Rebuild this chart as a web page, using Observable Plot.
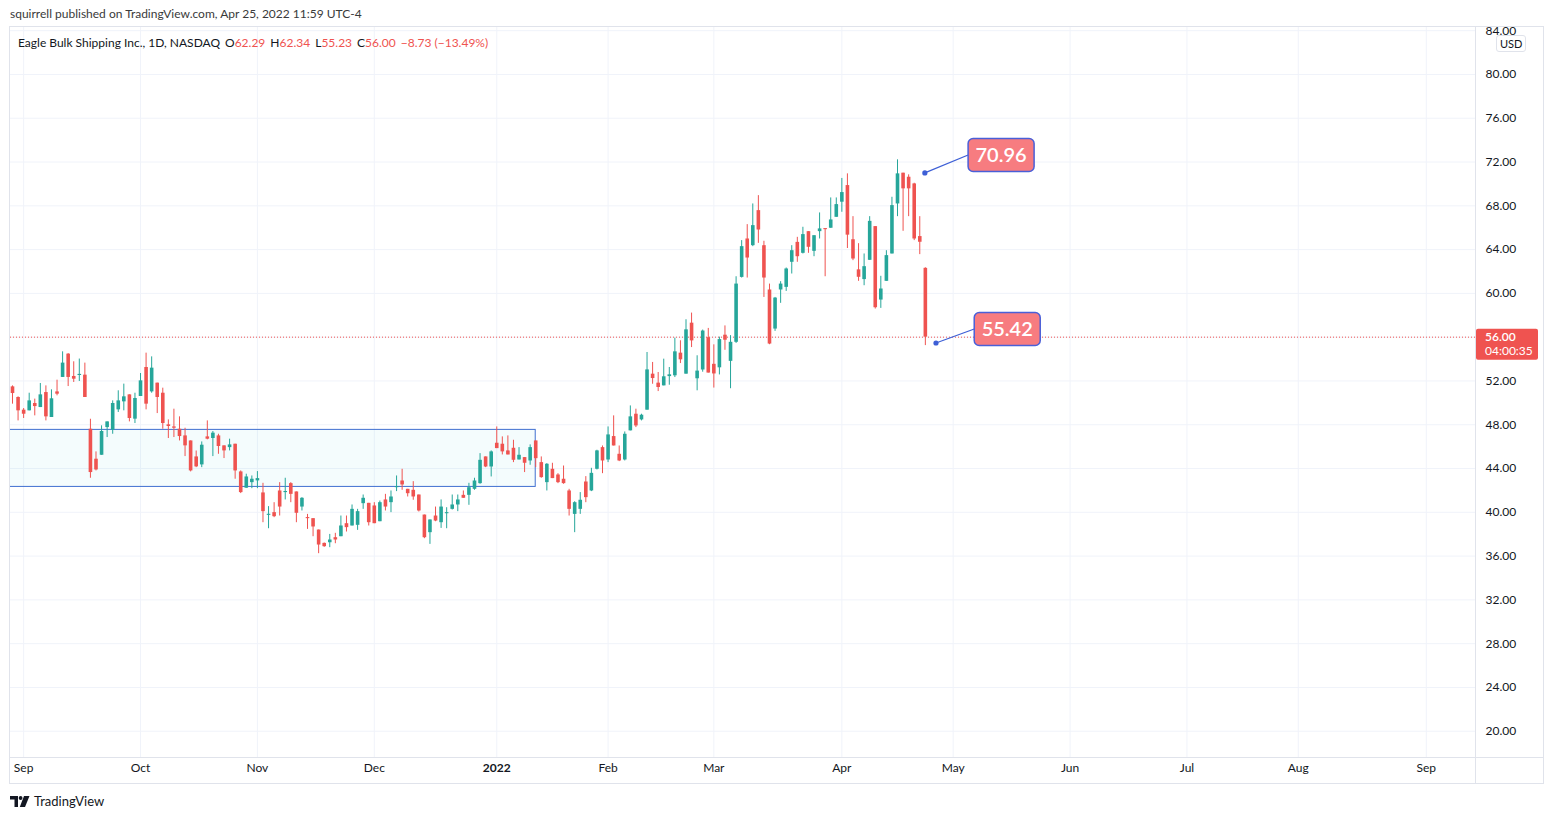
<!DOCTYPE html>
<html><head><meta charset="utf-8">
<script src="https://cdn.jsdelivr.net/npm/d3@7"></script>
<script src="https://cdn.jsdelivr.net/npm/@observablehq/plot@0.6"></script>
<style>
body{margin:0;background:#fff;font-family:Lato,"Noto Sans",sans-serif;color:#131722;}
#hdr{position:absolute;left:10px;top:7px;font-size:12px;color:#3a3a3a;white-space:nowrap;line-height:14px}
#frame{position:absolute;left:9px;top:26px;width:1533px;height:756px;border:1px solid #e0e3eb;}
#chart{position:absolute;left:0;top:0}
#legend{position:absolute;left:8px;top:9px;font-size:12px;white-space:nowrap;line-height:14px;color:#131722}
#legend .v{color:#ef5350}
#legend .g{margin-left:5px}
#usd{position:absolute;left:1486px;top:8px;font-size:11px;line-height:13px;padding:1px 3px;border:1px solid #e0e3eb;border-radius:3px;background:#fff;color:#131722}
#foot{position:absolute;left:10px;top:793px;font-size:13px;line-height:16px;color:#131722;display:flex;align-items:center;gap:4px}
</style></head>
<body>
<div id="hdr">squirrell published on TradingView.com, Apr 25, 2022 11:59 UTC-4</div>
<div id="frame">
  <div id="chart"></div>
  <div id="legend">Eagle Bulk Shipping Inc., 1D, NASDAQ<span class="g">O<span class="v">62.29</span></span><span class="g">H<span class="v">62.34</span></span><span class="g">L<span class="v">55.23</span></span><span class="g">C<span class="v">56.00</span></span><span class="g v">−8.73 (−13.49%)</span></div>
  <div id="usd">USD</div>
</div>
<div id="foot"><svg width="20" height="11" viewBox="0 0 20 11"><path d="M0 0h8v11H4.5V3.6H0z" fill="#131722"/><circle cx="10.6" cy="2" r="1.9" fill="#131722"/><path d="M14 0h5.5L15 11h-5.2z" fill="#131722"/></svg><span>TradingView</span></div>
<script>
// ---- data (bar index 0 = Aug 30 2021, one bar per trading day) ----
const open = [51.46,50.49,49.33,49.27,49.94,49.57,50.94,48.66,51.00,52.32,54.45,52.41,52.50,52.53,47.59,44.85,45.21,47.74,47.50,49.36,50.09,50.73,48.51,50.58,53.23,51.00,51.80,50.88,47.99,47.80,47.59,46.98,46.52,45.06,44.33,46.89,46.74,46.98,46.07,45.91,46.22,43.69,42.20,42.71,42.87,41.77,39.72,39.97,41.95,41.80,42.62,41.86,40.48,39.51,39.42,38.38,37.16,37.22,37.68,37.77,38.96,38.75,38.81,40.79,40.82,40.58,39.14,41.13,40.88,42.25,42.86,42.10,42.01,41.58,39.75,38.14,39.66,39.05,39.87,40.27,40.67,41.55,41.55,42.10,42.62,45.06,44.14,46.31,46.22,45.61,45.85,44.78,45.00,44.69,46.52,44.54,42.71,43.93,43.41,43.02,41.95,39.81,40.27,42.77,41.95,43.93,45.91,44.78,46.92,45.30,44.78,47.44,48.96,48.44,49.33,52.62,51.80,51.55,52.40,52.47,54.54,52.62,57.28,52.20,53.00,55.95,53.52,53.20,56.18,53.79,55.53,61.46,64.97,64.36,67.56,64.36,60.31,56.74,60.31,60.55,62.84,64.66,63.66,65.64,63.84,65.64,65.89,65.95,66.95,68.33,69.85,64.90,62.15,61.26,63.02,66.10,59.39,61.10,63.60,68.17,70.98,70.61,70.00,65.19,62.29];
const high = [51.55,50.55,49.48,50.88,50.34,51.77,51.55,51.19,52.07,54.66,54.50,53.75,54.00,53.63,48.50,45.52,47.90,48.26,50.18,51.10,51.71,50.73,50.88,52.68,54.54,54.20,51.80,51.34,48.44,49.42,48.72,47.68,46.52,45.60,46.43,48.35,47.38,47.13,46.07,46.68,46.22,43.78,43.48,43.32,43.72,42.65,40.52,40.88,42.71,43.11,42.71,41.86,41.34,39.81,39.42,38.38,37.20,37.98,38.08,39.66,39.66,40.67,40.27,41.58,40.82,40.88,41.03,41.64,41.95,43.32,43.93,42.10,42.80,41.58,39.75,39.30,40.48,41.13,40.42,41.58,41.58,41.95,42.65,43.11,45.36,45.06,45.61,47.80,46.89,46.98,46.58,45.91,45.00,46.16,46.52,45.06,44.45,44.48,43.53,44.23,42.10,40.97,41.80,43.26,44.02,45.67,46.06,47.80,48.81,46.06,47.34,49.72,49.42,48.96,54.60,53.69,52.77,53.99,53.23,55.91,55.67,57.59,58.20,54.30,56.65,56.80,55.30,56.00,57.03,56.14,61.52,64.82,66.28,68.17,68.93,64.76,60.85,59.63,61.07,62.32,64.36,65.12,66.04,65.64,65.27,67.35,65.89,68.72,68.72,70.50,70.92,67.01,64.54,63.60,67.01,66.10,61.56,63.90,68.78,72.20,70.98,70.83,70.06,67.01,62.34];
const low = [49.88,48.35,48.57,49.27,48.81,49.57,48.35,48.66,50.64,52.32,51.49,51.86,51.95,50.49,43.11,43.78,45.21,46.83,47.13,49.12,49.27,48.26,48.11,50.58,49.36,50.88,49.02,47.59,46.74,46.83,46.52,45.09,43.69,44.08,44.08,46.62,45.09,45.30,44.91,45.61,43.02,41.71,42.20,42.16,42.16,39.05,38.50,39.51,39.66,41.13,40.88,39.05,40.12,38.44,37.77,36.22,36.80,36.77,37.13,37.77,38.20,38.75,38.35,40.27,38.75,38.96,39.14,40.12,39.97,41.89,42.01,41.40,41.10,40.03,37.59,37.07,39.14,38.53,38.50,40.21,40.06,41.28,40.64,42.01,42.56,44.08,43.23,45.82,45.24,45.24,44.54,44.78,43.63,44.30,44.08,43.11,41.95,43.08,42.62,42.56,39.66,38.14,39.81,40.88,41.89,43.87,43.53,44.54,46.06,44.63,44.69,47.44,47.74,48.35,49.33,51.70,51.03,51.55,51.61,52.31,53.59,52.62,55.05,51.10,52.80,52.72,51.35,52.55,54.80,51.29,55.43,61.40,61.40,64.27,64.57,59.63,55.31,56.53,59.09,60.18,61.77,62.84,63.60,63.66,63.35,64.97,61.52,65.95,66.95,67.41,64.10,62.99,61.10,60.70,63.02,58.57,58.63,61.10,63.60,67.01,65.67,67.01,64.82,63.54,55.23];
const close = [50.85,49.27,48.96,50.18,49.66,50.73,48.72,50.37,50.79,53.63,52.32,52.16,52.59,50.49,43.63,43.87,47.38,48.26,49.94,50.18,50.55,48.57,50.40,52.01,49.88,53.17,50.49,48.11,47.84,47.68,46.92,46.07,43.78,44.15,46.13,46.68,47.23,46.01,45.61,46.16,43.78,41.80,43.23,43.02,43.08,40.06,39.82,39.60,40.48,41.89,41.64,39.91,41.28,39.42,38.66,37.01,36.86,37.47,37.47,38.75,38.60,40.27,40.06,41.28,39.05,38.96,40.88,40.48,41.40,42.34,42.50,41.70,41.40,40.12,37.68,39.30,39.20,40.48,39.94,40.67,41.13,41.28,42.25,42.86,44.75,44.14,45.52,45.82,45.52,45.24,44.75,45.21,44.48,45.91,44.90,43.17,44.39,43.08,42.71,42.62,40.27,40.88,41.10,41.34,43.56,45.61,44.69,47.07,46.06,44.69,47.13,48.72,47.89,48.87,53.01,52.22,51.40,52.38,52.56,54.66,53.93,56.67,55.66,52.90,56.56,52.72,52.64,55.78,55.72,55.53,60.85,64.27,63.23,66.19,65.79,61.40,55.37,59.57,60.85,62.23,63.90,63.35,65.37,64.21,65.27,65.89,65.82,66.71,68.11,69.21,65.32,63.14,61.47,62.44,66.58,58.69,60.40,63.45,68.02,70.92,69.55,69.55,64.97,64.67,56.00];

const monthLabels = ["Sep","Oct","Nov","Dec","2022","Feb","Mar","Apr","May","Jun","Jul","Aug","Sep"];
const monthBars   = [2,23,44,65,87,107,126,149,169,190,211,231,254];
const priceTicks = [20,24,28,32,36,40,44,48,52,56,60,64,68,72,76,80,84];
const lastPrice = 56.00;
const countdown = "04:00:35";
const zones = [{fromBar:-3, toBar:94, top:47.53, bottom:42.32}];
const callouts = [
  {label:"70.96", bar:164, price:70.96, labelBar:177.7, labelPrice:72.60},
  {label:"55.42", bar:166, price:55.42, labelBar:178.8, labelPrice:56.70}
];

const UP = "#26a69a", DOWN = "#ef5350", GRID = "#f0f3fa", AXIS = "#e0e3eb";
const bars = open.map((o,i)=>({i, o, h:high[i], l:low[i], c:close[i]}));
const col = d => d.c >= d.o ? UP : DOWN;

function frameLines(index, scales, values, dim){
  const g = d3.create("svg:g");
  const px = dim.width - dim.marginRight, py = dim.height - dim.marginBottom;
  g.append("line").attr("x1",0).attr("x2",dim.width).attr("y1",py+0.5).attr("y2",py+0.5).attr("stroke",AXIS);
  g.append("line").attr("x1",px+0.5).attr("x2",px+0.5).attr("y1",0).attr("y2",dim.height).attr("stroke",AXIS);
  return g.node();
}
function calloutMark(index, scales, values, dim){
  const g = d3.create("svg:g");
  for (const c of callouts){
    const dx = scales.x(c.bar), dy = scales.y(c.price);
    const bx = scales.x(c.labelBar), by = scales.y(c.labelPrice);
    const w = 66, h = 33;
    g.append("line").attr("x1",dx).attr("y1",dy).attr("x2",bx-w/2).attr("y2",by).attr("stroke","#3d5fd6").attr("stroke-width",1.2);
    g.append("circle").attr("cx",dx).attr("cy",dy).attr("r",2.6).attr("fill","#3d5fd6");
    g.append("rect").attr("x",bx-w/2).attr("y",by-h/2).attr("width",w).attr("height",h).attr("rx",5)
      .attr("fill","#f77c80").attr("stroke","#4a5fd8").attr("stroke-width",1.5);
    g.append("text").attr("x",bx).attr("y",by).attr("dy","0.36em").attr("text-anchor","middle")
      .attr("fill","#fff").attr("font-size",20).attr("font-weight",600).text(c.label);
  }
  return g.node();
}
function priceTag(index, scales, values, dim){
  const g = d3.create("svg:g").attr("text-anchor","start");
  const x0 = dim.width - dim.marginRight, y0 = scales.y(lastPrice);
  g.append("rect").attr("x",x0+1).attr("y",y0-8).attr("width",62).attr("height",31).attr("rx",2).attr("fill","#ef5350");
  g.append("text").attr("x",x0+10).attr("y",y0).attr("dy","0.36em").attr("text-anchor","start").attr("fill","#fff").attr("font-size",12).attr("font-weight",600).text(lastPrice.toFixed(2));
  g.append("text").attr("x",x0+10).attr("y",y0+14).attr("dy","0.36em").attr("text-anchor","start").attr("fill","#fff").attr("font-size",12).text(countdown);
  return g.node();
}

const chart = Plot.plot({
  width: 1533, height: 756,
  marginLeft: 0, marginRight: 68, marginTop: 0, marginBottom: 26,
  style: {fontFamily: "Lato, 'Noto Sans', sans-serif", fontSize: "12px", background: "transparent", color: "#131722"},
  x: {type: "linear", domain: [-0.36, 262.84], axis: null},
  y: {type: "linear", domain: [17.60, 84.29], axis: null},
  marks: [
    Plot.ruleY(priceTicks, {stroke: GRID}),
    Plot.ruleX(monthBars, {stroke: GRID}),
    Plot.rect(zones, {x1:"fromBar", x2:"toBar", y1:"bottom", y2:"top", fill:"#26c6da", fillOpacity:0.05, stroke:"#3f6fd0", strokeWidth:1, clip:true}),
    Plot.ruleY([lastPrice], {stroke: DOWN, strokeDasharray: "1,2"}),
    Plot.ruleX(bars, {x:"i", y1:"l", y2:"h", stroke: col, strokeWidth: 1}),
    Plot.ruleX(bars, {x:"i", y1: d => Math.min(d.o,d.c), y2: d => Math.max(Math.max(d.o,d.c), Math.min(d.o,d.c)+0.1), stroke: col, strokeWidth: 3.6}),
    frameLines,
    Plot.axisY({anchor:"right", ticks: priceTicks.filter(t => t !== lastPrice), tickFormat: d => d.toFixed(2), tickSize: 0, tickPadding: 10, fontSize: 12, fill: "#131722"}),
    Plot.axisX({anchor:"bottom", ticks: monthBars.filter((b,k)=>monthLabels[k] !== "2022"), tickFormat: b => monthLabels[monthBars.indexOf(b)], tickSize: 0, tickPadding: 6, fontSize: 12, fill: "#131722"}),
    Plot.axisX({anchor:"bottom", ticks: monthBars.filter((b,k)=>monthLabels[k] === "2022"), tickFormat: () => "2022", tickSize: 0, tickPadding: 6, fontSize: 12, fontWeight: "bold", fill: "#131722"}),
    calloutMark,
    priceTag
  ]
});
document.getElementById("chart").appendChild(chart);
</script>
</body></html>
